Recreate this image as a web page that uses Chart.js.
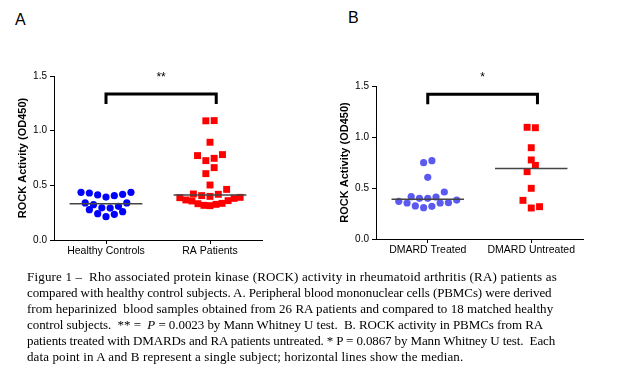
<!DOCTYPE html>
<html>
<head>
<meta charset="utf-8">
<script src="https://cdn.jsdelivr.net/npm/chart.js@4.4.1/dist/chart.umd.min.js"></script>
<style>
  body { margin: 0; background: #fff; }
  #wrap { position: relative; width: 624px; height: 374px; overflow: hidden; background: #fff; }
  canvas { position: absolute; top: 0; }
  #chartA { left: 0; }
  #chartB { left: 310px; }
  .panel { position: absolute; font: 16px Arial, "Liberation Sans", sans-serif; line-height: 16px; color: #000; }
  #caption { position: absolute; left: 27px; top: 269px; font: 13px "Times New Roman", "Liberation Serif", serif;
             line-height: 16px; white-space: nowrap; color: #000; }
  #caption span { display: block; }
</style>
</head>
<body>
<div id="wrap">
  <div class="panel" style="left:15px; top:12px;">A</div>
  <div class="panel" style="left:348px; top:10px;">B</div>
  <canvas id="chartA" width="310" height="270"></canvas>
  <canvas id="chartB" width="314" height="270"></canvas>
  <div id="caption">
    <span style="letter-spacing:0.18px">Figure 1 &ndash;&nbsp; Rho associated protein kinase (ROCK) activity in rheumatoid arthritis (RA) patients as</span>
    <span style="letter-spacing:-0.1px">compared with healthy control subjects. A. Peripheral blood mononuclear cells (PBMCs) were derived</span>
    <span style="letter-spacing:0.04px">from heparinized&nbsp; blood samples obtained from 26 RA patients and compared to 18 matched healthy</span>
    <span style="letter-spacing:-0.06px">control subjects.&nbsp; ** =&nbsp; <i>P</i> = 0.0023 by Mann Whitney U test.&nbsp; B. ROCK activity in PBMCs from RA</span>
    <span style="letter-spacing:-0.12px">patients treated with DMARDs and RA patients untreated. * P = 0.0867 by Mann Whitney U test.&nbsp; Each</span>
    <span style="letter-spacing:0.12px">data point in A and B represent a single subject; horizontal lines show the median.</span>
  </div>
</div>
<script>
// values (ROCK activity, OD450)
const categoriesA = ['Healthy Controls', 'RA Patients'];
const categoriesB = ['DMARD Treated', 'DMARD Untreated'];
const healthyControls = [0.436, 0.430, 0.412, 0.393, 0.405, 0.418, 0.436, 0.339, 0.323, 0.294,
                         0.292, 0.308, 0.339, 0.277, 0.241, 0.213, 0.235, 0.259];
const raPatients = [1.090, 1.092, 0.894, 0.772, 0.781, 0.726, 0.747, 0.662, 0.607, 0.503, 0.463,
                    0.421, 0.406, 0.399, 0.418, 0.390, 0.381, 0.360, 0.335, 0.326, 0.314, 0.317,
                    0.332, 0.357, 0.366, 0.387];
const dmardTreated = [0.768, 0.748, 0.605, 0.461, 0.415, 0.399, 0.399, 0.412, 0.369, 0.353,
                      0.324, 0.307, 0.320, 0.353, 0.356, 0.382];
const dmardUntreated = [1.095, 1.091, 0.895, 0.775, 0.722, 0.660, 0.497, 0.379, 0.304, 0.317];
const yTicks = [0, 0.5, 1.0, 1.5];
const starsA = '**';
const starsB = '*';

const sans = 'Arial, "Liberation Sans", sans-serif';

function median(arr) {
  const s = [...arr].sort((a, b) => a - b);
  const m = Math.floor(s.length / 2);
  return s.length % 2 ? s[m] : (s[m - 1] + s[m]) / 2;
}

// prism-like column scatter: values grouped in rows, spread round the column centre
function swarm(values, center, side) {
  const binW = 0.078, step = 0.08, maxHalf = 0.29, near = 0.07;
  const min = Math.min(...values);
  const rows = {};
  values.forEach(v => {
    const k = Math.floor((v - min) / binW + 1e-9);
    (rows[k] = rows[k] || []).push(v);
  });
  const pts = [];
  let prev = null; // lowest point of the row above
  Object.keys(rows).map(Number).sort((a, b) => b - a).forEach(k => {
    const row = rows[k].sort((a, b) => a - b);
    const n = row.length;
    const maxOff = (n - 1) / 2;
    const s = maxOff > 0 ? Math.min(step, maxHalf / maxOff) : step;
    let low = null;
    row.forEach((v, i) => {
      let off;
      if (n === 1) {
        off = 0;
        if (prev && prev.v - v < near) off = prev.off > 0 ? -0.5 : 0.5;
      } else if (n % 2) off = i === 0 ? 0 : (i % 2 ? side : -side) * Math.ceil(i / 2);
      else off = (i % 2 ? -side : side) * (Math.floor(i / 2) + 0.5);
      if (i === 0) low = { v, off };
      pts.push({ x: center + off * s, y: v });
    });
    prev = low;
  });
  return pts;
}

function medianLine(values, center) {
  const m = median(values);
  return { type: 'line', data: [{ x: center - 0.35, y: m }, { x: center + 0.35, y: m }],
           borderColor: '#444', borderWidth: 1.5, pointRadius: 0, order: 0 };
}

const bracketPlugin = {
  id: 'bracket',
  afterDatasetsDraw(chart, args, opts) {
    const { ctx, scales: { x, y } } = chart;
    const x1 = x.getPixelForValue(opts.from), x2 = x.getPixelForValue(opts.to);
    const yTop = y.getPixelForValue(opts.top), yLeg = y.getPixelForValue(opts.leg);
    ctx.save();
    ctx.strokeStyle = '#000';
    ctx.lineWidth = 3;
    ctx.beginPath();
    ctx.moveTo(x1, yLeg); ctx.lineTo(x1, yTop); ctx.lineTo(x2, yTop); ctx.lineTo(x2, yLeg);
    ctx.stroke();
    ctx.fillStyle = '#000';
    ctx.font = '12px ' + sans;
    ctx.textAlign = 'center';
    ctx.textBaseline = 'middle';
    ctx.fillText(opts.label, (x1 + x2) / 2, yTop - 16);
    ctx.restore();
  }
};

function makeChart(id, cats, left, right, blue, sides, bracket, padding) {
  return new Chart(document.getElementById(id), {
    type: 'scatter',
    data: {
      datasets: [
        medianLine(left, 1),
        medianLine(right, 2),
        { data: swarm(left, 1, sides[0]), pointStyle: 'circle', pointRadius: 3.6,
          backgroundColor: blue, borderWidth: 0, order: 1 },
        { data: swarm(right, 2, sides[1]), pointStyle: 'rect', pointRadius: 4.9,
          backgroundColor: '#ff0000', borderWidth: 0, order: 1 }
      ]
    },
    options: {
      responsive: false,
      animation: false,
      events: [],
      layout: { padding },
      plugins: { legend: { display: false }, tooltip: { enabled: false }, bracket },
      scales: {
        x: {
          type: 'linear', min: 0.5, max: 2.5,
          afterBuildTicks: s => { s.ticks = cats.map((c, i) => ({ value: i + 1 })); },
          afterFit: s => { s.height = 20; },
          ticks: { callback: v => cats[v - 1], color: '#000', padding: 1, autoSkip: false, maxRotation: 0,
                   font: { family: sans, size: 10.5 } },
          grid: { drawOnChartArea: false, color: '#000', tickLength: 4 },
          border: { color: '#000', width: 1 }
        },
        y: {
          min: 0, max: 1.5,
          afterBuildTicks: s => { s.ticks = yTicks.map(v => ({ value: v })); },
          afterFit: s => { s.width = 54; },
          ticks: { callback: v => v.toFixed(1), color: '#000', padding: 3,
                   font: { family: sans, size: 10 } },
          grid: { drawOnChartArea: false, color: '#000', tickLength: 4 },
          border: { color: '#000', width: 1 },
          title: { display: true, text: 'ROCK Activity (OD450)', color: '#000',
                   font: { family: sans, size: 11, weight: 'bold' }, padding: { top: 16.4, bottom: 0 } }
        }
      }
    },
    plugins: [bracketPlugin]
  });
}

makeChart('chartA', categoriesA, healthyControls, raPatients, '#0000ff', [1, -1],
  { from: 1, to: 2.06, top: 1.336, leg: 1.244, label: starsA },
  { left: 0, right: 48, top: 76, bottom: 10 });

makeChart('chartB', categoriesB, dmardTreated, dmardUntreated, '#5a5af0', [-1, 1],
  { from: 1, to: 2.06, top: 1.42, leg: 1.32, label: starsB },
  { left: 12, right: 41, top: 86, bottom: 11 });
</script>
</body>
</html>
